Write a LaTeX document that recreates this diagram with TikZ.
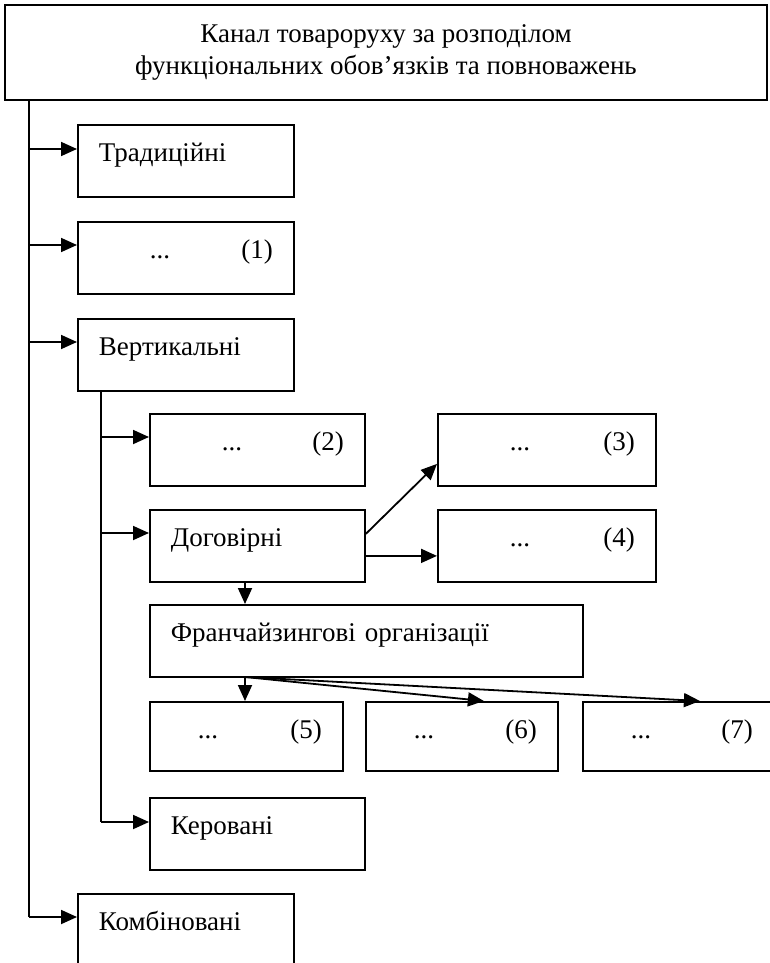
\documentclass[tikz,border=0pt]{standalone}
\usepackage{fontspec}
\setmainfont{Liberation Serif}
\usetikzlibrary{arrows.meta}
\newcommand{\dotsnum}[2]{\hspace*{#1pt}...\hfill(#2)}

\begin{document}
\begin{tikzpicture}[x=1pt, y=-1pt, line width=1.8pt,
  >={Triangle[length=16pt,width=14pt]},
  font=\fontsize{27}{32}\selectfont,
  kind/.style={rectangle, draw, anchor=north west, align=left,
    inner xsep=21pt, inner ysep=0pt, text height=37pt, text depth=35pt},
  head/.style={rectangle, draw, align=center,
    minimum width=762pt, minimum height=95pt}
]
\useasboundingbox (0,0) rectangle (770,963);
\node[head] (top) at (386,52.5) {Канал товароруху за розподілом\\функціональних обов’язків та повноважень};
\node[kind, text width=174pt] (trad) at (77,124) {Традиційні};
\node[kind, text width=174pt] (one) at (77,221) {\dotsnum{51}{1}};
\node[kind, text width=174pt] (vert) at (77,318) {Вертикальні};
\node[kind, text width=173pt] (two) at (149,413) {\dotsnum{51}{2}};
\node[kind, text width=176pt] (three) at (437,413) {\dotsnum{51}{3}};
\node[kind, text width=173pt] (dog) at (149,509) {Договірні};
\node[kind, text width=176pt] (four) at (437,509) {\dotsnum{51}{4}};
\node[kind, text width=391pt] (fran) at (149,604) {Франчайзингові організації};
\node[kind, text width=151pt, text depth=32pt] (five) at (149,701) {\dotsnum{27}{5}};
\node[kind, text width=150pt, text depth=32pt] (six) at (365,701) {\dotsnum{27}{6}};
\node[kind, text width=149pt, text depth=32pt] (seven) at (582,701) {\dotsnum{27}{7}};
\node[kind, text width=173pt] (ker) at (149,797) {Керовані};
\node[kind, text width=174pt, text depth=38pt] (komb) at (77,893) {Комбіновані};

% main branch
\coordinate (m1) at (29,149);
\coordinate (m2) at (29,245);
\coordinate (m3) at (29,342);
\coordinate (m4) at (29,917);
\draw (top.south -| m1) -- (m4);
\draw[->] (m1) -- (m1 -| trad.west);
\draw[->] (m2) -- (m2 -| one.west);
\draw[->] (m3) -- (m3 -| vert.west);
\draw[->] (m4) -- (m4 -| komb.west);

% vertical branch
\coordinate (s1) at (101,437);
\coordinate (s2) at (101,533);
\coordinate (s3) at (101,822);
\draw (vert.south -| s1) -- (s3);
\draw[->] (s1) -- (s1 -| two.west);
\draw[->] (s2) -- (s2 -| dog.west);
\draw[->] (s3) -- (s3 -| ker.west);

\draw[->] ([yshift=12pt]dog.east) -- ([yshift=-14pt]three.west);
\draw[->] ([yshift=-10pt]dog.east) -- ([yshift=-10pt]four.west);

% franchising
\coordinate (fork) at (245,677);
\draw[->] (dog.south -| fork) -- (fran.north -| fork);
\draw[->] (fork) -- (five.north -| fork);
\draw[->] (fork) -- ([xshift=22pt]six.north);
\draw[->] (fork) -- ([xshift=21.5pt]seven.north);
\end{tikzpicture}
\end{document}
